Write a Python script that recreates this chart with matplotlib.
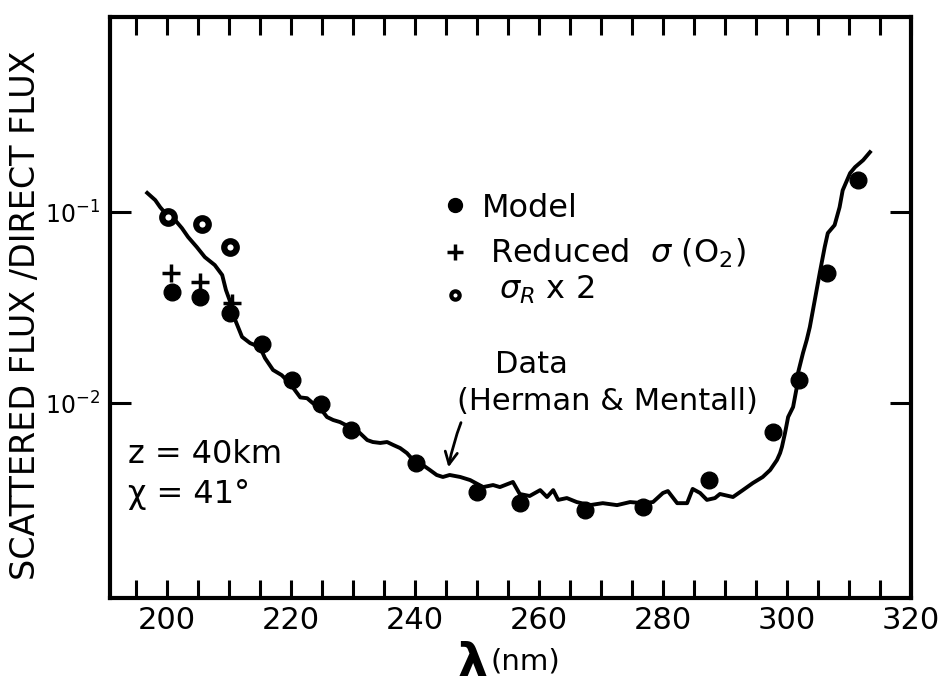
import matplotlib
matplotlib.use("Agg")
import matplotlib.pyplot as plt
from matplotlib.ticker import MultipleLocator, NullLocator

plt.rcParams['font.family'] = ['DejaVu Sans Condensed', 'DejaVu Sans']
plt.rcParams['mathtext.fontset'] = 'dejavusans'

# measured ratio (Herman & Mentall)
data_wl = [196.8, 198.1, 198.9, 200.0, 201.3, 202.4, 203.4, 204.8, 206.1, 207.7,
           208.9, 209.5, 210.5, 211.0, 212.1, 213.4, 215.0, 215.8, 217.1, 218.5,
           219.8, 221.5, 222.6, 223.5, 224.7, 225.8, 226.8, 227.9, 229.5, 231.1,
           232.3, 233.2, 234.4, 235.5, 236.5, 237.6, 238.7, 239.7, 240.8, 242.4,
           243.5, 244.5, 245.6, 247.3, 248.9, 251.0, 252.6, 253.7, 255.8, 256.9,
           258.5, 260.2, 261.3, 262.3, 263.1, 264.5, 266.1, 268.2, 270.3, 272.6,
           274.7, 276.8, 278.4, 280.0, 280.8, 282.3, 283.9, 284.8, 286.0, 287.1,
           288.4, 289.2, 291.3, 292.9, 294.5, 296.1, 297.3, 298.4, 298.9, 299.2,
           299.7, 300.2, 301.0, 301.6, 301.8, 302.6, 303.2, 303.7, 304.5, 305.3,
           306.1, 306.6, 307.7, 308.5, 309.0, 310.2, 311.0, 312.3, 313.4]
data_ratio = [0.126, 0.1155, 0.106, 0.0964, 0.0908, 0.0824, 0.0740, 0.0656, 0.0581, 0.0528,
              0.0468, 0.0391, 0.0318, 0.0272, 0.0222, 0.0206, 0.0196, 0.0172, 0.0149, 0.0140,
              0.0127, 0.0107, 0.0106, 0.0100, 0.00941, 0.00845, 0.00815, 0.00795, 0.00748, 0.00697,
              0.00640, 0.00625, 0.00618, 0.00625, 0.00603, 0.00581, 0.00547, 0.00503, 0.00485, 0.00446,
              0.00420, 0.00410, 0.00420, 0.00410, 0.00395, 0.00363, 0.00372, 0.00363, 0.00386, 0.00334,
              0.00326, 0.00350, 0.00322, 0.00350, 0.00311, 0.00318, 0.00303, 0.00292, 0.00299, 0.00292,
              0.00303, 0.00299, 0.00303, 0.00338, 0.00346, 0.00299, 0.00299, 0.00355, 0.00338, 0.00311,
              0.00318, 0.00334, 0.00322, 0.00350, 0.00381, 0.00410, 0.00446, 0.00503, 0.00547, 0.00589,
              0.00697, 0.00845, 0.00953, 0.0121, 0.0144, 0.0183, 0.0214, 0.0250, 0.0346, 0.0480,
              0.0656, 0.0776, 0.0855, 0.106, 0.130, 0.160, 0.172, 0.187, 0.206]

model_wl = [200.8, 205.3, 210.1, 215.4, 220.1, 224.9, 229.7, 240.2, 250.0, 257.0,
            267.5, 276.8, 287.5, 297.7, 302.0, 306.5, 311.5]
model_ratio = [0.038, 0.036, 0.0296, 0.0204, 0.0132, 0.0099, 0.0072, 0.00485, 0.00342, 0.00299,
               0.00275, 0.00285, 0.00395, 0.00705, 0.0132, 0.048, 0.147]

o2_wl = [200.6, 205.3, 210.4]
o2_ratio = [0.048, 0.043, 0.0334]

ray_wl = [200.2, 205.6, 210.1]
ray_ratio = [0.094, 0.0865, 0.0656]

fig = plt.figure(figsize=(9.5, 6.85), dpi=100)
ax = fig.add_axes([0.1158, 0.127, 0.843, 0.848])

ax.plot(data_wl, data_ratio, color='black', lw=2.8, zorder=2)
ax.plot(model_wl, model_ratio, 'o', color='black', ms=12, zorder=3)
ax.plot(o2_wl, o2_ratio, '+', color='black', ms=13, mew=2.5, zorder=3)
ax.plot(ray_wl, ray_ratio, 'o', mfc='white', mec='black', ms=9, mew=4.5, zorder=3)

ax.set_yscale('log')
ax.set_xlim(190.8, 320)
ax.set_ylim(10 ** -3.021, 10 ** 0.021)

for s in ax.spines.values():
    s.set_linewidth(3)

ax.xaxis.set_major_locator(MultipleLocator(20))
ax.xaxis.set_minor_locator(MultipleLocator(5))
ax.set_yticks([0.1, 0.01], labels=[r'$10^{-1}$', r'$10^{-2}$'])
ax.yaxis.set_minor_locator(NullLocator())
ax.tick_params(axis='x', which='both', direction='in', top=True, bottom=True,
               length=13, width=2.2, labelsize=22, pad=6)
ax.tick_params(axis='y', which='both', direction='in', left=True, right=True,
               length=15, width=2.2, labelsize=17, pad=7)

# legend drawn by hand
tr = ax.transAxes
ax.plot([0.431], [0.676], 'o', color='black', ms=10, transform=tr, clip_on=False)
ax.plot([0.431], [0.596], '+', color='black', ms=12, mew=2.5, transform=tr, clip_on=False)
ax.plot([0.431], [0.5215], 'o', mfc='white', mec='black', ms=6, mew=3, transform=tr, clip_on=False)
ax.text(0.464, 0.656, 'Model', fontsize=23, transform=tr, va='baseline')
ax.text(0.474, 0.578, r'Reduced  $\sigma$ (O$_2$)', fontsize=23, transform=tr, va='baseline')
ax.text(0.486, 0.516, r'$\sigma_R$ x 2', fontsize=23, transform=tr, va='baseline')

ax.text(0.481, 0.387, 'Data', fontsize=22, transform=tr, va='baseline')
ax.text(0.433, 0.3236, '(Herman & Mentall)', fontsize=22, transform=tr, va='baseline')
ax.annotate('', xy=(0.422, 0.2203), xytext=(0.4395, 0.3064), xycoords=tr, textcoords=tr,
            arrowprops=dict(arrowstyle='->', lw=2, color='black', mutation_scale=22,
                            connectionstyle='arc3,rad=0.05'))

ax.text(0.0225, 0.232, 'z = 40km', fontsize=23, transform=tr, va='baseline')
ax.text(0.0225, 0.1635, 'χ = 41°', fontsize=23, transform=tr, va='baseline')

fig.text(0.027, 0.54, 'SCATTERED FLUX /DIRECT FLUX', fontsize=24, rotation=90,
         ha='center', va='center')
fig.text(0.497, 0.013, 'λ', fontsize=34, fontweight='bold', ha='center', va='baseline')
fig.text(0.516, 0.022, '(nm)', fontsize=21, ha='left', va='baseline')

fig.savefig('out.png', dpi=100)
